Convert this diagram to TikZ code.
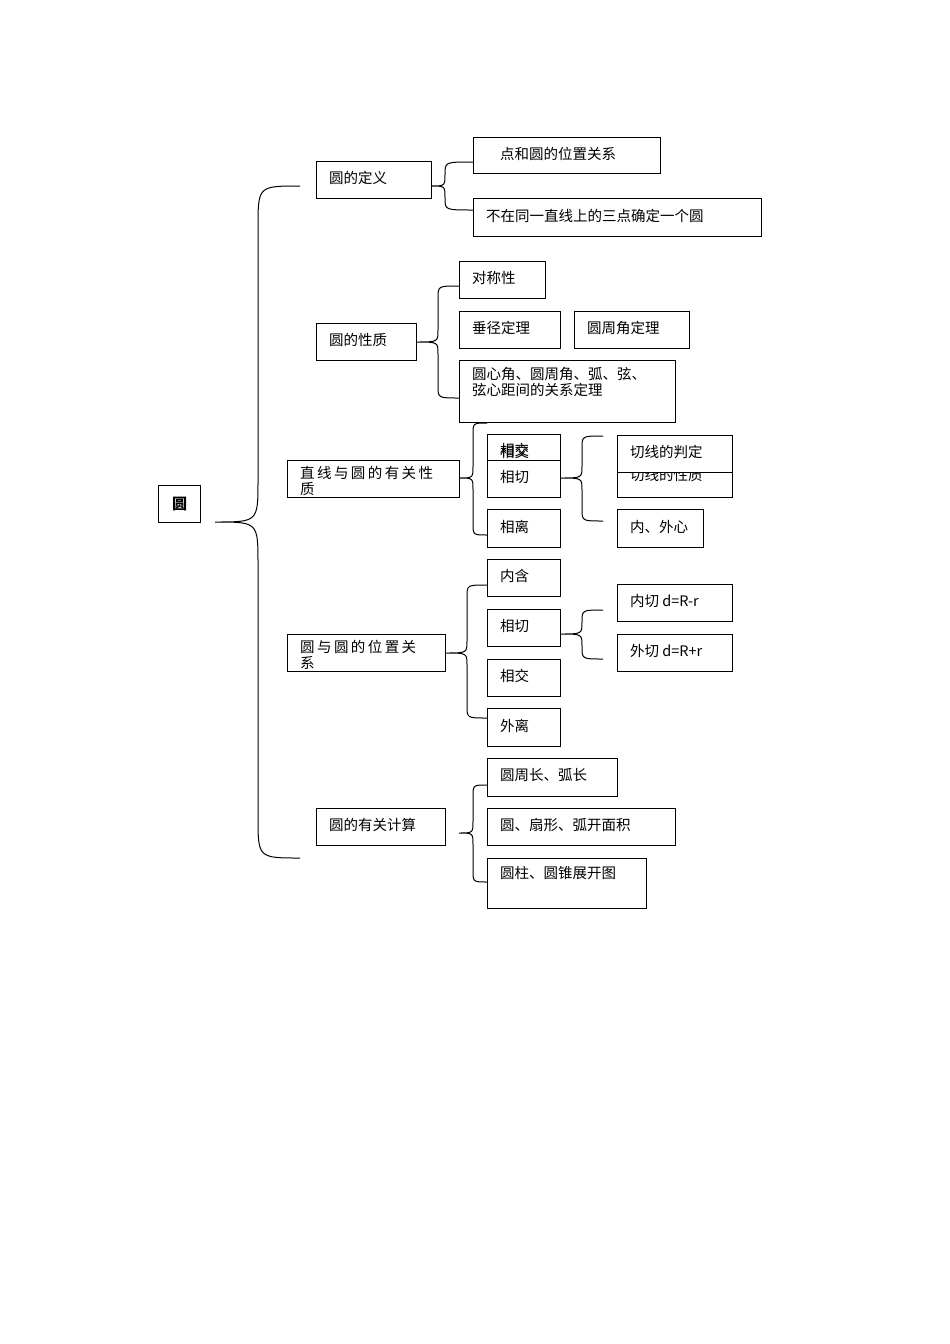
\documentclass[tikz,border=0pt]{standalone}
\usepackage{fontspec}
\setmainfont{Noto Sans CJK SC}
\usetikzlibrary{calc}
\tikzset{bx/.style={draw,fill=white,line width=1pt,inner sep=0pt,anchor=north west},
 lbl/.style={anchor=west,inner sep=0pt,font=\fontsize{14.5}{18}\selectfont},
 br/.style={line width=1pt}}
\newcommand\bx[6]{\node[bx,minimum width={#4pt-#2pt},minimum height={#5pt-#3pt}] (#1) at (#2,#3) {};
 \node[lbl] (#1t) at ($(#1.west)+(13,-2)$) {#6};}
\newcommand\mybrace[7]{\draw[br] (#6,#4) .. controls (#3,#4) .. (#3,#4+#7) -- (#3,#2-#7) .. controls (#3,#2) .. (#1,#2) .. controls (#3,#2) .. (#3,#2+#7) -- (#3,#5-#7) .. controls (#3,#5) .. (#6,#5);}
\begin{document}
\begin{tikzpicture}[x=1pt,y=-1pt]
\useasboundingbox[fill=white] (0,0) rectangle (950,1344);
% root
\node[bx,minimum width=42pt,minimum height=37pt] (root) at (158,485) {};
\node[font=\fontsize{15}{18}\selectfont\bfseries] at (root) {圆};
\mybrace{215}{522}{258}{186}{858}{300}{42}
% 1
\bx{a}{316}{161}{431}{198}{圆的定义}
\mybrace{431}{186}{445}{162}{210}{473}{12}
\bx{a1}{473}{137}{660}{173}{\hspace{14pt}点和圆的位置关系}
\bx{a2}{473}{198}{761}{236}{不在同一直线上的三点确定一个圆}
% 2
\bx{b}{316}{323}{416}{360}{圆的性质}
\mybrace{416}{342}{438}{286}{398}{459}{12}
\bx{b1}{459}{261}{545}{298}{对称性}
\node at (0,0) {};
\bx{b2}{459}{311}{560}{348}{垂径定理}
\bx{b3}{574}{311}{689}{348}{圆周角定理}
\node[bx,minimum width=216pt,minimum height=62pt] (b4) at (459,360) {};
\node[lbl,anchor=north west,align=left,font=\fontsize{14.5}{16}\selectfont] at (472,367) {圆心角、圆周角、弧、弦、\\弦心距间的关系定理};
% 3
\mybrace{459}{478}{473}{423}{535}{487}{12}
\node[bx,minimum width=172pt,minimum height=37pt] (c) at (287,460) {};
\begin{scope}
\clip (287,460) rectangle (459,497);
\node[lbl,anchor=north west,align=left,font=\fontsize{14.5}{16}\selectfont] at (300,466) {直\,线\,与\,圆\,的\,有\,关\,性\\质};
\end{scope}
\bx{c1}{487}{434}{560}{472}{相交}
\node[lbl] at (500,450) {相交};
\bx{c2}{487}{460}{560}{497}{相切}
\bx{c3}{487}{509}{560}{547}{相离}
\mybrace{560}{478}{582}{436}{521}{603}{12}
\bx{c22}{617}{460}{732}{497}{}
\node[lbl] at (630,475) {切线的性质};
\bx{c21}{617}{435}{732}{472}{切线的判定}
\bx{c23}{617}{509}{703}{547}{内、外心}
% 4
\node[bx,minimum width=158pt,minimum height=37pt] (d) at (287,634) {};
\begin{scope}
\clip (287,634) rectangle (445,671);
\node[lbl,anchor=north west,align=left,font=\fontsize{14.5}{16}\selectfont] at (300,640) {圆\,与\,圆\,的\,位\,置\,关\\系};
\end{scope}
\mybrace{445}{653}{467}{585}{718}{487}{12}
\bx{d1}{487}{559}{560}{596}{内含}
\bx{d2}{487}{609}{560}{646}{相切}
\bx{d3}{487}{659}{560}{696}{相交}
\bx{d4}{487}{708}{560}{746}{外离}
\mybrace{560}{634}{582}{610}{659}{603}{12}
\bx{d21}{617}{584}{732}{621}{内切 d=R-r}
\bx{d22}{617}{634}{732}{671}{外切 d=R+r}
% 5
\bx{e}{316}{808}{445}{845}{圆的有关计算}
\mybrace{459}{833}{473}{785}{882}{487}{12}
\bx{e1}{487}{758}{617}{796}{圆周长、弧长}
\bx{e2}{487}{808}{675}{845}{圆、扇形、弧开面积}
\node[bx,minimum width=159pt,minimum height=50pt] (e3) at (487,858) {};
\node[lbl] at (500,873) {圆柱、圆锥展开图};
\end{tikzpicture}
\end{document}
